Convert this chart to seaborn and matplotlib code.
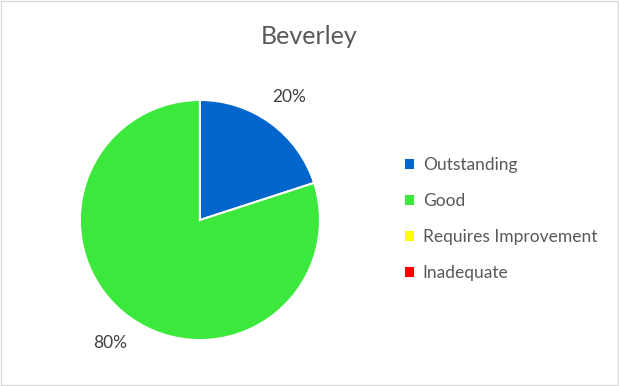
import matplotlib
matplotlib.use("Agg")
import matplotlib.pyplot as plt
import seaborn as sns
from matplotlib.patches import Rectangle

categories = ["Outstanding", "Good", "Requires Improvement", "Inadequate"]
values = [20, 80, 0, 0]
colors = ["#0066CC", "#3DE83D", "#FFFF00", "#FF0000"]
title = "Beverley"

sns.set_theme(style="white")
plt.rcParams['font.family'] = ['Lato', 'DejaVu Sans']

fig = plt.figure(figsize=(6.19, 3.86), dpi=100)
fig.patch.set_facecolor("white")
ax = fig.add_axes([0.129, 0.119, 0.388, 0.622])

pal = sns.color_palette(colors)
nz = [(c, v, col) for c, v, col in zip(categories, values, pal) if v > 0]
wedges, texts, autotexts = ax.pie(
    [v for _, v, _ in nz],
    colors=[col for _, _, col in nz],
    startangle=90, counterclock=False,
    autopct=lambda p: f"{p:.0f}%", pctdistance=1.27,
    wedgeprops=dict(edgecolor="white", linewidth=1.5),
    textprops=dict(color="#404040", fontsize=12.5),
)
ax.set_xlim(-1, 1)
ax.set_ylim(-1, 1)
ax.set_aspect("equal")

handles = [Rectangle((0, 0), 1, 1, facecolor=c, edgecolor="none") for c in pal]
leg = fig.legend(handles, categories, loc="center left",
                 bbox_to_anchor=(0.641, 0.433), frameon=False,
                 fontsize=12.5, handlelength=0.5, handleheight=0.5,
                 handletextpad=0.5, labelspacing=1.15, borderpad=0)
for t in leg.get_texts():
    t.set_color("#595959")

fig.text(0.5, 0.905, title, ha="center", va="center", fontsize=18, color="#595959")

fig.patches.append(Rectangle((0.001, 0.002), 0.997, 0.995, transform=fig.transFigure,
                             fill=False, edgecolor="#D9D9D9", linewidth=1))

fig.savefig("out.png", dpi=100)
